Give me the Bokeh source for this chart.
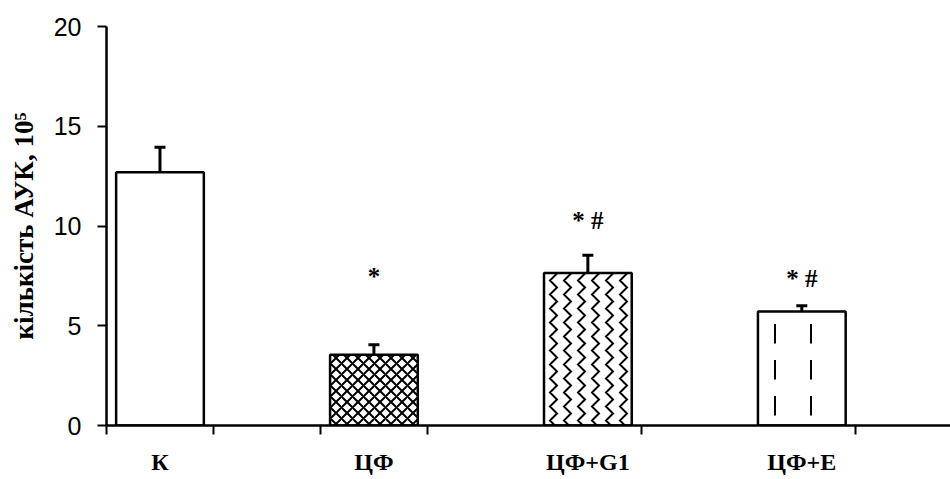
from bokeh.plotting import figure
from bokeh.models import Range1d, FixedTicker, Whisker, ColumnDataSource, TeeHead
from bokeh.core.properties import value
from bokeh.embed import file_html
from bokeh.resources import INLINE

# ---- data ----
groups = ["К", "ЦФ", "ЦФ+G1", "ЦФ+E"]
positions = [0.5, 2.5, 4.5, 6.5]
means = [12.7, 3.55, 7.65, 5.72]
errors = [1.25, 0.5, 0.88, 0.28]
sig_labels = ["*", "* #", "* #"]
sig_pos = [2.5, 4.5, 6.5]
sig_y = [7.45, 10.3, 7.38]
y_ticks = [0, 5, 10, 15, 20]
x_boundaries = [0, 1, 2, 3, 5, 7]
hatches = ["blank", "diagonal_cross", "vertical_wave", "vertical_dash"]
hatch_scales = [12, 11, 14, 36]

src = ColumnDataSource(dict(
    x=positions, top=means,
    upper=[m + e for m, e in zip(means, errors)],
    lower=[m - e for m, e in zip(means, errors)],
    hatch=hatches, hs=hatch_scales,
))
sig_src = ColumnDataSource(dict(x=sig_pos, y=sig_y, lab=sig_labels))

p = figure(width=950, height=479, output_backend="svg", toolbar_location=None,
           x_range=Range1d(0, 7.89), y_range=Range1d(0, 20),
           min_border_left=106, min_border_right=0, min_border_top=26,
           min_border_bottom=54)
p.outline_line_color = None
p.grid.visible = False
p.background_fill_color = "white"

p.vbar(x="x", top="top", width=0.82, source=src, fill_color="white",
       line_color="black", line_width=2.5, hatch_pattern="hatch",
       hatch_scale="hs", hatch_weight=2, hatch_color="black")

p.add_layout(Whisker(base="x", upper="upper", lower="lower", source=src,
                     line_width=3, line_color="black",
                     upper_head=TeeHead(size=11, line_width=3, line_color="black"),
                     lower_head=TeeHead(size=11, line_width=3, line_color="black")))

p.text(x="x", y="y", text="lab", source=sig_src, text_align="center",
       text_baseline="middle", text_font=value("Liberation Serif"),
       text_font_size="25px", text_font_style="bold", text_color="black")

# x axis
xa = p.xaxis[0]
xa.ticker = FixedTicker(ticks=positions, minor_ticks=x_boundaries)
xa.major_label_overrides = {pos: g for pos, g in zip(positions, groups)}
xa.major_tick_out = 0
xa.major_tick_in = 0
xa.minor_tick_out = 9
xa.minor_tick_in = 0
xa.minor_tick_line_width = 2
xa.minor_tick_line_color = "black"
xa.axis_line_width = 2.5
xa.axis_line_color = "black"
xa.major_label_standoff = 14
xa.major_label_text_font = "Liberation Serif"
xa.major_label_text_font_style = "bold"
xa.major_label_text_font_size = "24px"
xa.major_label_text_color = "black"

# y axis
ya = p.yaxis[0]
ya.ticker = FixedTicker(ticks=y_ticks)
ya.major_tick_out = 9
ya.major_tick_in = 0
ya.major_tick_line_width = 2
ya.major_tick_line_color = "black"
ya.minor_tick_out = 0
ya.minor_tick_in = 0
ya.axis_line_width = 2.5
ya.axis_line_color = "black"
ya.major_label_standoff = 16
ya.major_label_text_font = "Liberation Sans"
ya.major_label_text_font_size = "25px"
ya.major_label_text_color = "black"
ya.axis_label = "кількість АУК, 10⁵"
ya.axis_label_text_font = "Liberation Serif"
ya.axis_label_text_font_style = "bold"
ya.axis_label_text_font_size = "27px"
ya.axis_label_text_color = "black"
ya.axis_label_standoff = 12

open("out.html", "w").write(file_html(p, INLINE))
